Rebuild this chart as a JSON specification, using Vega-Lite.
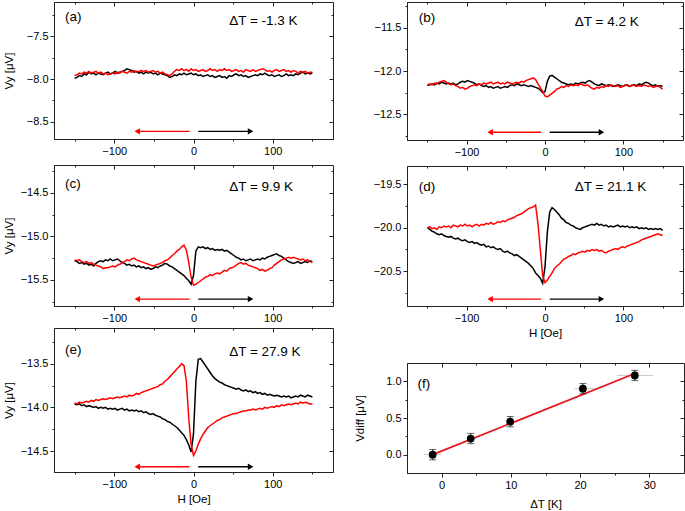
{
"$schema": "https://vega.github.io/schema/vega-lite/v6.json",
"padding": {"left": 2, "top": 1, "right": 0, "bottom": 0},
"config": {
  "font": "Liberation Sans",
  "view": {"stroke": "#222", "strokeWidth": 1},
  "axis": {"labelFont": "Liberation Sans", "labelFontSize": 11, "labelColor": "#000", "titleFont": "Liberation Sans", "titleFontSize": 11.5, "titleFontWeight": "normal", "titleColor": "#000", "domainColor": "#222", "tickColor": "#222", "grid": false, "labelPadding": 2, "tickSize": 4, "titlePadding": 4},
  "text": {"font": "Liberation Sans"}
},
"datasets": {
"a": [
{"h":-150,"k":-7.99,"r":-7.96},{"h":-147,"k":-7.98,"r":-7.95},{"h":-144,"k":-7.96,"r":-7.93},{"h":-141,"k":-7.97,"r":-7.94},{"h":-138,"k":-7.94,"r":-7.92},{"h":-135,"k":-7.95,"r":-7.93},{"h":-132,"k":-7.92,"r":-7.91},{"h":-129,"k":-7.94,"r":-7.93},{"h":-126,"k":-7.93,"r":-7.92},{"h":-123,"k":-7.95,"r":-7.91},{"h":-120,"k":-7.93,"r":-7.93},{"h":-117,"k":-7.94,"r":-7.92},{"h":-114,"k":-7.95,"r":-7.94},{"h":-111,"k":-7.93,"r":-7.93},{"h":-108,"k":-7.92,"r":-7.95},{"h":-105,"k":-7.94,"r":-7.94},{"h":-102,"k":-7.93,"r":-7.93},{"h":-99,"k":-7.91,"r":-7.94},{"h":-96,"k":-7.93,"r":-7.92},{"h":-93,"k":-7.92,"r":-7.93},{"h":-90,"k":-7.91,"r":-7.91},{"h":-87,"k":-7.90,"r":-7.92},{"h":-84,"k":-7.88,"r":-7.93},{"h":-81,"k":-7.89,"r":-7.91},{"h":-78,"k":-7.90,"r":-7.92},{"h":-75,"k":-7.92,"r":-7.90},{"h":-72,"k":-7.91,"r":-7.92},{"h":-69,"k":-7.93,"r":-7.91},{"h":-66,"k":-7.92,"r":-7.90},{"h":-63,"k":-7.94,"r":-7.91},{"h":-60,"k":-7.92,"r":-7.90},{"h":-57,"k":-7.93,"r":-7.92},{"h":-54,"k":-7.92,"r":-7.91},{"h":-51,"k":-7.94,"r":-7.90},{"h":-48,"k":-7.93,"r":-7.92},{"h":-45,"k":-7.95,"r":-7.91},{"h":-42,"k":-7.93,"r":-7.93},{"h":-39,"k":-7.94,"r":-7.92},{"h":-36,"k":-7.95,"r":-7.94},{"h":-33,"k":-7.96,"r":-7.95},{"h":-30,"k":-7.98,"r":-7.96},{"h":-27,"k":-7.97,"r":-7.94},{"h":-24,"k":-7.95,"r":-7.91},{"h":-21,"k":-7.96,"r":-7.89},{"h":-18,"k":-7.94,"r":-7.90},{"h":-15,"k":-7.95,"r":-7.88},{"h":-12,"k":-7.93,"r":-7.90},{"h":-9,"k":-7.95,"r":-7.89},{"h":-6,"k":-7.94,"r":-7.91},{"h":-3,"k":-7.93,"r":-7.88},{"h":0,"k":-7.95,"r":-7.90},{"h":3,"k":-7.94,"r":-7.89},{"h":6,"k":-7.96,"r":-7.91},{"h":9,"k":-7.95,"r":-7.90},{"h":12,"k":-7.97,"r":-7.89},{"h":15,"k":-7.96,"r":-7.91},{"h":18,"k":-7.95,"r":-7.90},{"h":21,"k":-7.97,"r":-7.88},{"h":24,"k":-7.96,"r":-7.90},{"h":27,"k":-7.98,"r":-7.89},{"h":30,"k":-7.97,"r":-7.91},{"h":33,"k":-7.96,"r":-7.89},{"h":36,"k":-7.98,"r":-7.90},{"h":39,"k":-7.97,"r":-7.88},{"h":42,"k":-7.99,"r":-7.90},{"h":45,"k":-7.96,"r":-7.89},{"h":48,"k":-7.97,"r":-7.91},{"h":51,"k":-7.95,"r":-7.90},{"h":54,"k":-7.94,"r":-7.89},{"h":57,"k":-7.96,"r":-7.91},{"h":60,"k":-7.95,"r":-7.90},{"h":63,"k":-7.97,"r":-7.92},{"h":66,"k":-7.96,"r":-7.89},{"h":69,"k":-7.98,"r":-7.90},{"h":72,"k":-7.97,"r":-7.91},{"h":75,"k":-7.96,"r":-7.89},{"h":78,"k":-7.95,"r":-7.91},{"h":81,"k":-7.96,"r":-7.90},{"h":84,"k":-7.94,"r":-7.89},{"h":87,"k":-7.95,"r":-7.88},{"h":90,"k":-7.93,"r":-7.89},{"h":93,"k":-7.95,"r":-7.91},{"h":96,"k":-7.96,"r":-7.90},{"h":99,"k":-7.95,"r":-7.92},{"h":102,"k":-7.97,"r":-7.90},{"h":105,"k":-7.96,"r":-7.89},{"h":108,"k":-7.95,"r":-7.91},{"h":111,"k":-7.97,"r":-7.90},{"h":114,"k":-7.96,"r":-7.89},{"h":117,"k":-7.94,"r":-7.91},{"h":120,"k":-7.96,"r":-7.90},{"h":123,"k":-7.95,"r":-7.92},{"h":126,"k":-7.96,"r":-7.90},{"h":129,"k":-7.94,"r":-7.91},{"h":132,"k":-7.95,"r":-7.93},{"h":135,"k":-7.93,"r":-7.91},{"h":138,"k":-7.92,"r":-7.92},{"h":141,"k":-7.94,"r":-7.91},{"h":144,"k":-7.93,"r":-7.93},{"h":147,"k":-7.94,"r":-7.92},{"h":150,"k":-7.93,"r":-7.92}
],
"b": [
{"h":-150,"k":-12.17,"r":-12.16},{"h":-147,"k":-12.16,"r":-12.15},{"h":-144,"k":-12.15,"r":-12.16},{"h":-141,"k":-12.16,"r":-12.14},{"h":-138,"k":-12.14,"r":-12.15},{"h":-135,"k":-12.15,"r":-12.13},{"h":-132,"k":-12.13,"r":-12.12},{"h":-129,"k":-12.14,"r":-12.11},{"h":-126,"k":-12.15,"r":-12.13},{"h":-123,"k":-12.14,"r":-12.15},{"h":-120,"k":-12.15,"r":-12.16},{"h":-117,"k":-12.14,"r":-12.15},{"h":-114,"k":-12.16,"r":-12.17},{"h":-111,"k":-12.15,"r":-12.18},{"h":-108,"k":-12.13,"r":-12.20},{"h":-105,"k":-12.12,"r":-12.19},{"h":-102,"k":-12.13,"r":-12.21},{"h":-99,"k":-12.11,"r":-12.20},{"h":-96,"k":-12.12,"r":-12.18},{"h":-93,"k":-12.13,"r":-12.17},{"h":-90,"k":-12.14,"r":-12.16},{"h":-87,"k":-12.16,"r":-12.17},{"h":-84,"k":-12.15,"r":-12.15},{"h":-81,"k":-12.17,"r":-12.16},{"h":-78,"k":-12.18,"r":-12.14},{"h":-75,"k":-12.17,"r":-12.15},{"h":-72,"k":-12.19,"r":-12.14},{"h":-69,"k":-12.18,"r":-12.13},{"h":-66,"k":-12.20,"r":-12.15},{"h":-63,"k":-12.19,"r":-12.14},{"h":-60,"k":-12.18,"r":-12.13},{"h":-57,"k":-12.20,"r":-12.15},{"h":-54,"k":-12.19,"r":-12.14},{"h":-51,"k":-12.18,"r":-12.15},{"h":-48,"k":-12.19,"r":-12.13},{"h":-45,"k":-12.17,"r":-12.14},{"h":-42,"k":-12.16,"r":-12.15},{"h":-39,"k":-12.17,"r":-12.14},{"h":-36,"k":-12.15,"r":-12.13},{"h":-33,"k":-12.16,"r":-12.14},{"h":-30,"k":-12.17,"r":-12.12},{"h":-27,"k":-12.16,"r":-12.13},{"h":-24,"k":-12.17,"r":-12.11},{"h":-21,"k":-12.18,"r":-12.10},{"h":-18,"k":-12.17,"r":-12.09},{"h":-15,"k":-12.18,"r":-12.08},{"h":-12,"k":-12.19,"r":-12.10},{"h":-9,"k":-12.20,"r":-12.15},{"h":-6,"k":-12.22,"r":-12.19},{"h":-3,"k":-12.25,"r":-12.24},{"h":0,"k":-12.24,"r":-12.29},{"h":3,"k":-12.12,"r":-12.30},{"h":6,"k":-12.06,"r":-12.28},{"h":9,"k":-12.05,"r":-12.26},{"h":12,"k":-12.07,"r":-12.24},{"h":15,"k":-12.09,"r":-12.21},{"h":18,"k":-12.11,"r":-12.20},{"h":21,"k":-12.13,"r":-12.18},{"h":24,"k":-12.14,"r":-12.19},{"h":27,"k":-12.15,"r":-12.17},{"h":30,"k":-12.16,"r":-12.18},{"h":33,"k":-12.15,"r":-12.16},{"h":36,"k":-12.16,"r":-12.17},{"h":39,"k":-12.14,"r":-12.16},{"h":42,"k":-12.15,"r":-12.17},{"h":45,"k":-12.14,"r":-12.15},{"h":48,"k":-12.13,"r":-12.16},{"h":51,"k":-12.14,"r":-12.17},{"h":54,"k":-12.12,"r":-12.16},{"h":57,"k":-12.11,"r":-12.18},{"h":60,"k":-12.13,"r":-12.20},{"h":63,"k":-12.15,"r":-12.21},{"h":66,"k":-12.16,"r":-12.19},{"h":69,"k":-12.17,"r":-12.20},{"h":72,"k":-12.15,"r":-12.18},{"h":75,"k":-12.16,"r":-12.19},{"h":78,"k":-12.17,"r":-12.17},{"h":81,"k":-12.16,"r":-12.18},{"h":84,"k":-12.17,"r":-12.16},{"h":87,"k":-12.18,"r":-12.17},{"h":90,"k":-12.17,"r":-12.18},{"h":93,"k":-12.16,"r":-12.17},{"h":96,"k":-12.17,"r":-12.19},{"h":99,"k":-12.18,"r":-12.18},{"h":102,"k":-12.17,"r":-12.16},{"h":105,"k":-12.16,"r":-12.17},{"h":108,"k":-12.18,"r":-12.18},{"h":111,"k":-12.17,"r":-12.16},{"h":114,"k":-12.16,"r":-12.17},{"h":117,"k":-12.17,"r":-12.18},{"h":120,"k":-12.15,"r":-12.17},{"h":123,"k":-12.16,"r":-12.18},{"h":126,"k":-12.14,"r":-12.16},{"h":129,"k":-12.13,"r":-12.17},{"h":132,"k":-12.14,"r":-12.18},{"h":135,"k":-12.16,"r":-12.17},{"h":138,"k":-12.17,"r":-12.19},{"h":141,"k":-12.16,"r":-12.18},{"h":144,"k":-12.18,"r":-12.17},{"h":147,"k":-12.17,"r":-12.19},{"h":150,"k":-12.18,"r":-12.21}
],
"c": [
{"h":-150,"k":-15.28,"r":-15.27},{"h":-147,"k":-15.29,"r":-15.28},{"h":-144,"k":-15.31,"r":-15.27},{"h":-141,"k":-15.30,"r":-15.29},{"h":-138,"k":-15.32,"r":-15.30},{"h":-135,"k":-15.31,"r":-15.29},{"h":-132,"k":-15.33,"r":-15.31},{"h":-129,"k":-15.32,"r":-15.30},{"h":-126,"k":-15.34,"r":-15.32},{"h":-123,"k":-15.31,"r":-15.33},{"h":-120,"k":-15.29,"r":-15.34},{"h":-117,"k":-15.28,"r":-15.35},{"h":-114,"k":-15.29,"r":-15.37},{"h":-111,"k":-15.27,"r":-15.36},{"h":-108,"k":-15.28,"r":-15.36},{"h":-105,"k":-15.26,"r":-15.35},{"h":-102,"k":-15.28,"r":-15.34},{"h":-99,"k":-15.27,"r":-15.35},{"h":-96,"k":-15.26,"r":-15.33},{"h":-93,"k":-15.28,"r":-15.32},{"h":-90,"k":-15.30,"r":-15.30},{"h":-87,"k":-15.31,"r":-15.29},{"h":-84,"k":-15.33,"r":-15.27},{"h":-81,"k":-15.32,"r":-15.28},{"h":-78,"k":-15.34,"r":-15.26},{"h":-75,"k":-15.33,"r":-15.25},{"h":-72,"k":-15.35,"r":-15.27},{"h":-69,"k":-15.34,"r":-15.28},{"h":-66,"k":-15.36,"r":-15.29},{"h":-63,"k":-15.35,"r":-15.30},{"h":-60,"k":-15.37,"r":-15.31},{"h":-57,"k":-15.36,"r":-15.32},{"h":-54,"k":-15.38,"r":-15.33},{"h":-51,"k":-15.37,"r":-15.34},{"h":-48,"k":-15.35,"r":-15.33},{"h":-45,"k":-15.36,"r":-15.32},{"h":-42,"k":-15.34,"r":-15.31},{"h":-39,"k":-15.33,"r":-15.30},{"h":-36,"k":-15.31,"r":-15.28},{"h":-33,"k":-15.32,"r":-15.27},{"h":-30,"k":-15.34,"r":-15.25},{"h":-27,"k":-15.35,"r":-15.22},{"h":-24,"k":-15.37,"r":-15.20},{"h":-21,"k":-15.39,"r":-15.17},{"h":-18,"k":-15.41,"r":-15.15},{"h":-15,"k":-15.43,"r":-15.12},{"h":-12,"k":-15.45,"r":-15.10},{"h":-9,"k":-15.48,"r":-15.16},{"h":-6,"k":-15.51,"r":-15.30},{"h":-3,"k":-15.55,"r":-15.47},{"h":0,"k":-15.45,"r":-15.56},{"h":3,"k":-15.17,"r":-15.55},{"h":6,"k":-15.12,"r":-15.53},{"h":9,"k":-15.13,"r":-15.51},{"h":12,"k":-15.12,"r":-15.49},{"h":15,"k":-15.14,"r":-15.47},{"h":18,"k":-15.13,"r":-15.46},{"h":21,"k":-15.15,"r":-15.44},{"h":24,"k":-15.14,"r":-15.45},{"h":27,"k":-15.16,"r":-15.43},{"h":30,"k":-15.15,"r":-15.42},{"h":33,"k":-15.16,"r":-15.43},{"h":36,"k":-15.15,"r":-15.41},{"h":39,"k":-15.17,"r":-15.39},{"h":42,"k":-15.16,"r":-15.40},{"h":45,"k":-15.18,"r":-15.37},{"h":48,"k":-15.20,"r":-15.36},{"h":51,"k":-15.22,"r":-15.35},{"h":54,"k":-15.24,"r":-15.33},{"h":57,"k":-15.25,"r":-15.31},{"h":60,"k":-15.27,"r":-15.30},{"h":63,"k":-15.26,"r":-15.32},{"h":66,"k":-15.28,"r":-15.31},{"h":69,"k":-15.27,"r":-15.33},{"h":72,"k":-15.26,"r":-15.34},{"h":75,"k":-15.28,"r":-15.35},{"h":78,"k":-15.27,"r":-15.36},{"h":81,"k":-15.26,"r":-15.37},{"h":84,"k":-15.27,"r":-15.39},{"h":87,"k":-15.25,"r":-15.38},{"h":90,"k":-15.26,"r":-15.40},{"h":93,"k":-15.24,"r":-15.39},{"h":96,"k":-15.23,"r":-15.37},{"h":99,"k":-15.22,"r":-15.36},{"h":102,"k":-15.21,"r":-15.33},{"h":105,"k":-15.20,"r":-15.31},{"h":108,"k":-15.22,"r":-15.29},{"h":111,"k":-15.23,"r":-15.27},{"h":114,"k":-15.25,"r":-15.26},{"h":117,"k":-15.27,"r":-15.25},{"h":120,"k":-15.29,"r":-15.24},{"h":123,"k":-15.30,"r":-15.25},{"h":126,"k":-15.31,"r":-15.24},{"h":129,"k":-15.30,"r":-15.25},{"h":132,"k":-15.29,"r":-15.26},{"h":135,"k":-15.31,"r":-15.27},{"h":138,"k":-15.30,"r":-15.26},{"h":141,"k":-15.29,"r":-15.28},{"h":144,"k":-15.30,"r":-15.27},{"h":147,"k":-15.28,"r":-15.29},{"h":150,"k":-15.29,"r":-15.30}
],
"d": [
{"h":-150,"k":-20.00,"r":-20.00},{"h":-147,"k":-20.02,"r":-19.99},{"h":-144,"k":-20.04,"r":-20.01},{"h":-141,"k":-20.05,"r":-20.00},{"h":-138,"k":-20.07,"r":-20.02},{"h":-135,"k":-20.08,"r":-19.99},{"h":-132,"k":-20.07,"r":-20.00},{"h":-129,"k":-20.09,"r":-19.98},{"h":-126,"k":-20.10,"r":-19.99},{"h":-123,"k":-20.11,"r":-19.98},{"h":-120,"k":-20.10,"r":-20.00},{"h":-117,"k":-20.12,"r":-19.97},{"h":-114,"k":-20.13,"r":-19.98},{"h":-111,"k":-20.12,"r":-19.99},{"h":-108,"k":-20.14,"r":-19.97},{"h":-105,"k":-20.15,"r":-19.98},{"h":-102,"k":-20.14,"r":-19.96},{"h":-99,"k":-20.16,"r":-19.98},{"h":-96,"k":-20.17,"r":-19.97},{"h":-93,"k":-20.16,"r":-19.99},{"h":-90,"k":-20.18,"r":-19.97},{"h":-87,"k":-20.17,"r":-19.96},{"h":-84,"k":-20.19,"r":-19.98},{"h":-81,"k":-20.20,"r":-19.96},{"h":-78,"k":-20.19,"r":-19.97},{"h":-75,"k":-20.22,"r":-19.95},{"h":-72,"k":-20.21,"r":-19.96},{"h":-69,"k":-20.23,"r":-19.94},{"h":-66,"k":-20.22,"r":-19.96},{"h":-63,"k":-20.24,"r":-19.95},{"h":-60,"k":-20.25,"r":-19.93},{"h":-57,"k":-20.24,"r":-19.94},{"h":-54,"k":-20.27,"r":-19.92},{"h":-51,"k":-20.28,"r":-19.93},{"h":-48,"k":-20.27,"r":-19.91},{"h":-45,"k":-20.29,"r":-19.90},{"h":-42,"k":-20.30,"r":-19.89},{"h":-39,"k":-20.32,"r":-19.88},{"h":-36,"k":-20.31,"r":-19.86},{"h":-33,"k":-20.33,"r":-19.85},{"h":-30,"k":-20.35,"r":-19.84},{"h":-27,"k":-20.37,"r":-19.82},{"h":-24,"k":-20.39,"r":-19.80},{"h":-21,"k":-20.41,"r":-19.78},{"h":-18,"k":-20.44,"r":-19.77},{"h":-15,"k":-20.47,"r":-19.76},{"h":-12,"k":-20.52,"r":-19.74},{"h":-9,"k":-20.55,"r":-19.95},{"h":-6,"k":-20.58,"r":-20.25},{"h":-3,"k":-20.64,"r":-20.55},{"h":0,"k":-20.45,"r":-20.63},{"h":3,"k":-20.05,"r":-20.60},{"h":6,"k":-19.82,"r":-20.56},{"h":9,"k":-19.77,"r":-20.52},{"h":12,"k":-19.79,"r":-20.47},{"h":15,"k":-19.82,"r":-20.44},{"h":18,"k":-19.85,"r":-20.42},{"h":21,"k":-19.89,"r":-20.39},{"h":24,"k":-19.91,"r":-20.36},{"h":27,"k":-19.94,"r":-20.35},{"h":30,"k":-19.95,"r":-20.33},{"h":33,"k":-19.97,"r":-20.32},{"h":36,"k":-19.98,"r":-20.30},{"h":39,"k":-20.00,"r":-20.31},{"h":42,"k":-20.01,"r":-20.29},{"h":45,"k":-20.02,"r":-20.28},{"h":48,"k":-20.00,"r":-20.27},{"h":51,"k":-19.99,"r":-20.28},{"h":54,"k":-19.98,"r":-20.26},{"h":57,"k":-19.97,"r":-20.27},{"h":60,"k":-19.96,"r":-20.25},{"h":63,"k":-19.97,"r":-20.26},{"h":66,"k":-19.95,"r":-20.25},{"h":69,"k":-19.97,"r":-20.27},{"h":72,"k":-19.96,"r":-20.26},{"h":75,"k":-19.98,"r":-20.28},{"h":78,"k":-19.97,"r":-20.29},{"h":81,"k":-19.99,"r":-20.27},{"h":84,"k":-19.98,"r":-20.26},{"h":87,"k":-19.99,"r":-20.25},{"h":90,"k":-19.98,"r":-20.24},{"h":93,"k":-19.97,"r":-20.25},{"h":96,"k":-19.99,"r":-20.23},{"h":99,"k":-19.98,"r":-20.22},{"h":102,"k":-19.99,"r":-20.23},{"h":105,"k":-19.98,"r":-20.21},{"h":108,"k":-20.00,"r":-20.20},{"h":111,"k":-19.99,"r":-20.19},{"h":114,"k":-20.00,"r":-20.18},{"h":117,"k":-19.99,"r":-20.17},{"h":120,"k":-20.01,"r":-20.16},{"h":123,"k":-20.00,"r":-20.14},{"h":126,"k":-20.01,"r":-20.13},{"h":129,"k":-20.00,"r":-20.12},{"h":132,"k":-20.02,"r":-20.11},{"h":135,"k":-20.01,"r":-20.10},{"h":138,"k":-20.02,"r":-20.09},{"h":141,"k":-20.01,"r":-20.08},{"h":144,"k":-20.02,"r":-20.07},{"h":147,"k":-20.01,"r":-20.08},{"h":150,"k":-20.03,"r":-20.09}
],
"e": [
{"h":-150,"k":-13.96,"r":-13.95},{"h":-147,"k":-13.97,"r":-13.96},{"h":-144,"k":-13.96,"r":-13.94},{"h":-141,"k":-13.98,"r":-13.95},{"h":-138,"k":-13.97,"r":-13.94},{"h":-135,"k":-13.99,"r":-13.93},{"h":-132,"k":-13.98,"r":-13.94},{"h":-129,"k":-13.99,"r":-13.92},{"h":-126,"k":-14.00,"r":-13.93},{"h":-123,"k":-13.99,"r":-13.91},{"h":-120,"k":-14.01,"r":-13.92},{"h":-117,"k":-14.00,"r":-13.91},{"h":-114,"k":-14.01,"r":-13.90},{"h":-111,"k":-14.00,"r":-13.91},{"h":-108,"k":-14.02,"r":-13.90},{"h":-105,"k":-14.01,"r":-13.89},{"h":-102,"k":-14.02,"r":-13.90},{"h":-99,"k":-14.01,"r":-13.89},{"h":-96,"k":-14.03,"r":-13.88},{"h":-93,"k":-14.02,"r":-13.89},{"h":-90,"k":-14.01,"r":-13.88},{"h":-87,"k":-14.03,"r":-13.87},{"h":-84,"k":-14.02,"r":-13.88},{"h":-81,"k":-14.04,"r":-13.86},{"h":-78,"k":-14.03,"r":-13.87},{"h":-75,"k":-14.04,"r":-13.86},{"h":-72,"k":-14.03,"r":-13.84},{"h":-69,"k":-14.05,"r":-13.85},{"h":-66,"k":-14.04,"r":-13.83},{"h":-63,"k":-14.06,"r":-13.82},{"h":-60,"k":-14.05,"r":-13.81},{"h":-57,"k":-14.07,"r":-13.80},{"h":-54,"k":-14.08,"r":-13.79},{"h":-51,"k":-14.07,"r":-13.78},{"h":-48,"k":-14.09,"r":-13.77},{"h":-45,"k":-14.10,"r":-13.76},{"h":-42,"k":-14.11,"r":-13.74},{"h":-39,"k":-14.13,"r":-13.73},{"h":-36,"k":-14.14,"r":-13.70},{"h":-33,"k":-14.16,"r":-13.68},{"h":-30,"k":-14.17,"r":-13.65},{"h":-27,"k":-14.19,"r":-13.62},{"h":-24,"k":-14.21,"r":-13.59},{"h":-21,"k":-14.23,"r":-13.56},{"h":-18,"k":-14.26,"r":-13.53},{"h":-15,"k":-14.29,"r":-13.50},{"h":-12,"k":-14.32,"r":-13.52},{"h":-9,"k":-14.37,"r":-13.70},{"h":-6,"k":-14.43,"r":-14.12},{"h":-3,"k":-14.51,"r":-14.43},{"h":0,"k":-14.30,"r":-14.55},{"h":3,"k":-13.70,"r":-14.50},{"h":6,"k":-13.45,"r":-14.42},{"h":9,"k":-13.44,"r":-14.36},{"h":12,"k":-13.48,"r":-14.31},{"h":15,"k":-13.52,"r":-14.27},{"h":18,"k":-13.56,"r":-14.23},{"h":21,"k":-13.60,"r":-14.21},{"h":24,"k":-13.64,"r":-14.19},{"h":27,"k":-13.67,"r":-14.17},{"h":30,"k":-13.69,"r":-14.15},{"h":33,"k":-13.71,"r":-14.14},{"h":36,"k":-13.72,"r":-14.12},{"h":39,"k":-13.74,"r":-14.11},{"h":42,"k":-13.75,"r":-14.10},{"h":45,"k":-13.76,"r":-14.09},{"h":48,"k":-13.77,"r":-14.08},{"h":51,"k":-13.78,"r":-14.07},{"h":54,"k":-13.79,"r":-14.07},{"h":57,"k":-13.78,"r":-14.06},{"h":60,"k":-13.80,"r":-14.05},{"h":63,"k":-13.81,"r":-14.04},{"h":66,"k":-13.80,"r":-14.04},{"h":69,"k":-13.82,"r":-14.03},{"h":72,"k":-13.81,"r":-14.03},{"h":75,"k":-13.83,"r":-14.02},{"h":78,"k":-13.82,"r":-14.03},{"h":81,"k":-13.84,"r":-14.02},{"h":84,"k":-13.83,"r":-14.01},{"h":87,"k":-13.85,"r":-14.02},{"h":90,"k":-13.84,"r":-14.00},{"h":93,"k":-13.86,"r":-14.01},{"h":96,"k":-13.85,"r":-14.00},{"h":99,"k":-13.86,"r":-13.99},{"h":102,"k":-13.87,"r":-14.00},{"h":105,"k":-13.86,"r":-13.98},{"h":108,"k":-13.87,"r":-13.99},{"h":111,"k":-13.88,"r":-13.97},{"h":114,"k":-13.87,"r":-13.98},{"h":117,"k":-13.88,"r":-13.97},{"h":120,"k":-13.87,"r":-13.96},{"h":123,"k":-13.89,"r":-13.97},{"h":126,"k":-13.88,"r":-13.96},{"h":129,"k":-13.87,"r":-13.95},{"h":132,"k":-13.88,"r":-13.96},{"h":135,"k":-13.86,"r":-13.94},{"h":138,"k":-13.87,"r":-13.95},{"h":141,"k":-13.88,"r":-13.94},{"h":144,"k":-13.86,"r":-13.95},{"h":147,"k":-13.87,"r":-13.96},{"h":150,"k":-13.88,"r":-13.96}
],
"f": [
{"dt":-1.3,"v":0.0,"ylo":-0.07,"yhi":0.07,"xlo":-2.6,"xhi":0.0},
{"dt":4.2,"v":0.22,"ylo":0.15,"yhi":0.29,"xlo":3.7,"xhi":4.7},
{"dt":9.9,"v":0.45,"ylo":0.38,"yhi":0.52,"xlo":9.3,"xhi":10.5},
{"dt":20.4,"v":0.9,"ylo":0.83,"yhi":0.97,"xlo":19.2,"xhi":22.0},
{"dt":27.9,"v":1.08,"ylo":1.01,"yhi":1.15,"xlo":25.3,"xhi":30.5}
],
"fit": [{"dt":-1.3,"v":0.0},{"dt":28.0,"v":1.11}]
},
"spacing": 19,
"hconcat": [
{"spacing": 3, "vconcat": [
 {"spacing": 7, "vconcat": [
  {"width": 279, "height": 137, "resolve": {"axis": {"x": "independent", "y": "independent"}},
   "layer": [
    {"data": {"name": "a"}, "transform": [{"fold": ["k", "r"], "as": ["c", "v"]}], "mark": {"type": "line", "strokeWidth": 1.5},
     "encoding": {"x": {"field": "h", "type": "quantitative", "scale": {"domain": [-176, 176]}, "axis": {"values": [-100, 0, 100], "title": null}},
                  "y": {"field": "v", "type": "quantitative", "scale": {"domain": [-8.7, -7.1]}, "axis": {"values": [-7.5, -8, -8.5], "format": ".1f", "title": "Vy [μV]", "titleX": -40}},
                  "color": {"field": "c", "type": "nominal", "scale": {"domain": ["k", "r"], "range": ["#000000", "#ff0000"]}, "legend": null}}},
    {"data": {"values": [{"h": -5, "h2": -70, "v": -8.61, "c": "r"}, {"h": 6, "h2": 71, "v": -8.61, "c": "k"}]}, "mark": {"type": "rule", "strokeWidth": 1.3},
     "encoding": {"x": {"field": "h", "type": "quantitative", "scale": {"domain": [-176, 176]}, "axis": {"orient": "top", "values": [-100, 0, 100], "labels": false, "domain": false, "title": null, "tickSize": -4}},
                  "y": {"field": "v", "type": "quantitative", "scale": {"domain": [-8.7, -7.1]}, "axis": {"orient": "right", "values": [-7.5, -8, -8.5], "labels": false, "domain": false, "title": null, "tickSize": -4}},
                  "x2": {"field": "h2"}, "color": {"field": "c", "type": "nominal", "legend": null}}},
    {"data": {"values": [{"h": -71, "v": -8.61, "c": "r"}, {"h": 72, "v": -8.61, "c": "k"}]}, "mark": {"type": "point", "filled": true, "opacity": 1, "size": 40},
     "encoding": {"x": {"field": "h", "type": "quantitative", "scale": {"domain": [-176, 176]}, "axis": {"orient": "bottom", "values": [-150, -50, 50, 150], "labels": false, "domain": false, "title": null, "tickSize": 2}},
                  "y": {"field": "v", "type": "quantitative", "scale": {"domain": [-8.7, -7.1]}, "axis": {"orient": "left", "values": [-7.25, -7.75, -8.25], "labels": false, "domain": false, "title": null, "tickSize": 2}},
                  "color": {"field": "c", "type": "nominal", "legend": null}, "shape": {"field": "c", "type": "nominal", "scale": {"domain": ["k", "r"], "range": ["triangle-right", "triangle-left"]}, "legend": null}}},
    {"data": {"values": [{"h": -162, "v": -7.27, "t": "(a)"}, {"h": 45, "v": -7.32, "t": "ΔT = -1.3 K"}]}, "mark": {"type": "text", "align": "left", "baseline": "middle", "fontSize": 13.5, "color": "#000"},
     "encoding": {"x": {"field": "h", "type": "quantitative", "scale": {"domain": [-176, 176]}, "axis": {"orient": "top", "values": [-150, -50, 50, 150], "labels": false, "domain": false, "title": null, "tickSize": -2}},
                  "y": {"field": "v", "type": "quantitative", "scale": {"domain": [-8.7, -7.1]}, "axis": {"orient": "right", "values": [-7.25, -7.75, -8.25], "labels": false, "domain": false, "title": null, "tickSize": -2}},
                  "text": {"field": "t"}}}
   ]},
  {"width": 279, "height": 141, "resolve": {"axis": {"x": "independent", "y": "independent"}},
   "layer": [
    {"data": {"name": "c"}, "transform": [{"fold": ["k", "r"], "as": ["c", "v"]}], "mark": {"type": "line", "strokeWidth": 1.5},
     "encoding": {"x": {"field": "h", "type": "quantitative", "scale": {"domain": [-176, 176]}, "axis": {"values": [-100, 0, 100], "title": null}},
                  "y": {"field": "v", "type": "quantitative", "scale": {"domain": [-15.8, -14.18]}, "axis": {"values": [-14.5, -15, -15.5], "format": ".1f", "title": "Vy [μV]", "titleX": -40}},
                  "color": {"field": "c", "type": "nominal", "scale": {"domain": ["k", "r"], "range": ["#000000", "#ff0000"]}, "legend": null}}},
    {"data": {"values": [{"h": -5, "h2": -70, "v": -15.72, "c": "r"}, {"h": 6, "h2": 71, "v": -15.72, "c": "k"}]}, "mark": {"type": "rule", "strokeWidth": 1.3},
     "encoding": {"x": {"field": "h", "type": "quantitative", "scale": {"domain": [-176, 176]}, "axis": {"orient": "top", "values": [-100, 0, 100], "labels": false, "domain": false, "title": null, "tickSize": -4}},
                  "y": {"field": "v", "type": "quantitative", "scale": {"domain": [-15.8, -14.18]}, "axis": {"orient": "right", "values": [-14.5, -15, -15.5], "labels": false, "domain": false, "title": null, "tickSize": -4}},
                  "x2": {"field": "h2"}, "color": {"field": "c", "type": "nominal", "legend": null}}},
    {"data": {"values": [{"h": -71, "v": -15.72, "c": "r"}, {"h": 72, "v": -15.72, "c": "k"}]}, "mark": {"type": "point", "filled": true, "opacity": 1, "size": 40},
     "encoding": {"x": {"field": "h", "type": "quantitative", "scale": {"domain": [-176, 176]}, "axis": {"orient": "bottom", "values": [-150, -50, 50, 150], "labels": false, "domain": false, "title": null, "tickSize": 2}},
                  "y": {"field": "v", "type": "quantitative", "scale": {"domain": [-15.8, -14.18]}, "axis": {"orient": "left", "values": [-14.25, -14.75, -15.25, -15.75], "labels": false, "domain": false, "title": null, "tickSize": 2}},
                  "color": {"field": "c", "type": "nominal", "legend": null}, "shape": {"field": "c", "type": "nominal", "scale": {"domain": ["k", "r"], "range": ["triangle-right", "triangle-left"]}, "legend": null}}},
    {"data": {"values": [{"h": -162, "v": -14.40, "t": "(c)"}, {"h": 45, "v": -14.43, "t": "ΔT = 9.9 K"}]}, "mark": {"type": "text", "align": "left", "baseline": "middle", "fontSize": 13.5, "color": "#000"},
     "encoding": {"x": {"field": "h", "type": "quantitative", "scale": {"domain": [-176, 176]}, "axis": {"orient": "top", "values": [-150, -50, 50, 150], "labels": false, "domain": false, "title": null, "tickSize": -2}},
                  "y": {"field": "v", "type": "quantitative", "scale": {"domain": [-15.8, -14.18]}, "axis": {"orient": "right", "values": [-14.25, -14.75, -15.25, -15.75], "labels": false, "domain": false, "title": null, "tickSize": -2}},
                  "text": {"field": "t"}}}
   ]}
 ]},
 {"width": 279, "height": 144, "resolve": {"axis": {"x": "independent", "y": "independent"}},
  "layer": [
   {"data": {"name": "e"}, "transform": [{"fold": ["k", "r"], "as": ["c", "v"]}], "mark": {"type": "line", "strokeWidth": 1.5},
    "encoding": {"x": {"field": "h", "type": "quantitative", "scale": {"domain": [-176, 176]}, "axis": {"values": [-100, 0, 100], "title": "H [Oe]"}},
                 "y": {"field": "v", "type": "quantitative", "scale": {"domain": [-14.74, -13.09]}, "axis": {"values": [-13.5, -14, -14.5], "format": ".1f", "title": "Vy [μV]", "titleX": -40}},
                 "color": {"field": "c", "type": "nominal", "scale": {"domain": ["k", "r"], "range": ["#000000", "#ff0000"]}, "legend": null}}},
   {"data": {"values": [{"h": -5, "h2": -70, "v": -14.68, "c": "r"}, {"h": 6, "h2": 71, "v": -14.68, "c": "k"}]}, "mark": {"type": "rule", "strokeWidth": 1.3},
    "encoding": {"x": {"field": "h", "type": "quantitative", "scale": {"domain": [-176, 176]}, "axis": {"orient": "top", "values": [-100, 0, 100], "labels": false, "domain": false, "title": null, "tickSize": -4}},
                 "y": {"field": "v", "type": "quantitative", "scale": {"domain": [-14.74, -13.09]}, "axis": {"orient": "right", "values": [-13.5, -14, -14.5], "labels": false, "domain": false, "title": null, "tickSize": -4}},
                 "x2": {"field": "h2"}, "color": {"field": "c", "type": "nominal", "legend": null}}},
   {"data": {"values": [{"h": -71, "v": -14.68, "c": "r"}, {"h": 72, "v": -14.68, "c": "k"}]}, "mark": {"type": "point", "filled": true, "opacity": 1, "size": 40},
    "encoding": {"x": {"field": "h", "type": "quantitative", "scale": {"domain": [-176, 176]}, "axis": {"orient": "bottom", "values": [-150, -50, 50, 150], "labels": false, "domain": false, "title": null, "tickSize": 2}},
                 "y": {"field": "v", "type": "quantitative", "scale": {"domain": [-14.74, -13.09]}, "axis": {"orient": "left", "values": [-13.25, -13.75, -14.25], "labels": false, "domain": false, "title": null, "tickSize": 2}},
                 "color": {"field": "c", "type": "nominal", "legend": null}, "shape": {"field": "c", "type": "nominal", "scale": {"domain": ["k", "r"], "range": ["triangle-right", "triangle-left"]}, "legend": null}}},
   {"data": {"values": [{"h": -162, "v": -13.34, "t": "(e)"}, {"h": 45, "v": -13.37, "t": "ΔT = 27.9 K"}]}, "mark": {"type": "text", "align": "left", "baseline": "middle", "fontSize": 13.5, "color": "#000"},
    "encoding": {"x": {"field": "h", "type": "quantitative", "scale": {"domain": [-176, 176]}, "axis": {"orient": "top", "values": [-150, -50, 50, 150], "labels": false, "domain": false, "title": null, "tickSize": -2}},
                 "y": {"field": "v", "type": "quantitative", "scale": {"domain": [-14.74, -13.09]}, "axis": {"orient": "right", "values": [-13.25, -13.75, -14.25], "labels": false, "domain": false, "title": null, "tickSize": -2}},
                 "text": {"field": "t"}}}
  ]}
]},
{"spacing": 23, "vconcat": [
 {"spacing": 7, "vconcat": [
  {"width": 276, "height": 138, "resolve": {"axis": {"x": "independent", "y": "independent"}},
   "layer": [
    {"data": {"name": "b"}, "transform": [{"fold": ["k", "r"], "as": ["c", "v"]}], "mark": {"type": "line", "strokeWidth": 1.5},
     "encoding": {"x": {"field": "h", "type": "quantitative", "scale": {"domain": [-176, 176]}, "axis": {"values": [-100, 0, 100], "title": null}},
                  "y": {"field": "v", "type": "quantitative", "scale": {"domain": [-12.8, -11.2]}, "axis": {"values": [-11.5, -12, -12.5], "format": ".1f", "title": null}},
                  "color": {"field": "c", "type": "nominal", "scale": {"domain": ["k", "r"], "range": ["#000000", "#ff0000"]}, "legend": null}}},
    {"data": {"values": [{"h": -5, "h2": -69, "v": -12.71, "c": "r"}, {"h": 6, "h2": 71, "v": -12.71, "c": "k"}]}, "mark": {"type": "rule", "strokeWidth": 1.3},
     "encoding": {"x": {"field": "h", "type": "quantitative", "scale": {"domain": [-176, 176]}, "axis": {"orient": "top", "values": [-100, 0, 100], "labels": false, "domain": false, "title": null, "tickSize": -4}},
                  "y": {"field": "v", "type": "quantitative", "scale": {"domain": [-12.8, -11.2]}, "axis": {"orient": "right", "values": [-11.5, -12, -12.5], "labels": false, "domain": false, "title": null, "tickSize": -4}},
                  "x2": {"field": "h2"}, "color": {"field": "c", "type": "nominal", "legend": null}}},
    {"data": {"values": [{"h": -70, "v": -12.71, "c": "r"}, {"h": 72, "v": -12.71, "c": "k"}]}, "mark": {"type": "point", "filled": true, "opacity": 1, "size": 40},
     "encoding": {"x": {"field": "h", "type": "quantitative", "scale": {"domain": [-176, 176]}, "axis": {"orient": "bottom", "values": [-150, -50, 50, 150], "labels": false, "domain": false, "title": null, "tickSize": 2}},
                  "y": {"field": "v", "type": "quantitative", "scale": {"domain": [-12.8, -11.2]}, "axis": {"orient": "left", "values": [-11.25, -11.75, -12.25, -12.75], "labels": false, "domain": false, "title": null, "tickSize": 2}},
                  "color": {"field": "c", "type": "nominal", "legend": null}, "shape": {"field": "c", "type": "nominal", "scale": {"domain": ["k", "r"], "range": ["triangle-right", "triangle-left"]}, "legend": null}}},
    {"data": {"values": [{"h": -161, "v": -11.38, "t": "(b)"}, {"h": 38, "v": -11.43, "t": "ΔT = 4.2 K"}]}, "mark": {"type": "text", "align": "left", "baseline": "middle", "fontSize": 13.5, "color": "#000"},
     "encoding": {"x": {"field": "h", "type": "quantitative", "scale": {"domain": [-176, 176]}, "axis": {"orient": "top", "values": [-150, -50, 50, 150], "labels": false, "domain": false, "title": null, "tickSize": -2}},
                  "y": {"field": "v", "type": "quantitative", "scale": {"domain": [-12.8, -11.2]}, "axis": {"orient": "right", "values": [-11.25, -11.75, -12.25, -12.75], "labels": false, "domain": false, "title": null, "tickSize": -2}},
                  "text": {"field": "t"}}}
   ]},
  {"width": 276, "height": 140, "resolve": {"axis": {"x": "independent", "y": "independent"}},
   "layer": [
    {"data": {"name": "d"}, "transform": [{"fold": ["k", "r"], "as": ["c", "v"]}], "mark": {"type": "line", "strokeWidth": 1.5},
     "encoding": {"x": {"field": "h", "type": "quantitative", "scale": {"domain": [-176, 176]}, "axis": {"values": [-100, 0, 100], "title": "H [Oe]"}},
                  "y": {"field": "v", "type": "quantitative", "scale": {"domain": [-20.9, -19.29]}, "axis": {"values": [-19.5, -20, -20.5], "format": ".1f", "title": null}},
                  "color": {"field": "c", "type": "nominal", "scale": {"domain": ["k", "r"], "range": ["#000000", "#ff0000"]}, "legend": null}}},
    {"data": {"values": [{"h": -5, "h2": -69, "v": -20.82, "c": "r"}, {"h": 6, "h2": 71, "v": -20.82, "c": "k"}]}, "mark": {"type": "rule", "strokeWidth": 1.3},
     "encoding": {"x": {"field": "h", "type": "quantitative", "scale": {"domain": [-176, 176]}, "axis": {"orient": "top", "values": [-100, 0, 100], "labels": false, "domain": false, "title": null, "tickSize": -4}},
                  "y": {"field": "v", "type": "quantitative", "scale": {"domain": [-20.9, -19.29]}, "axis": {"orient": "right", "values": [-19.5, -20, -20.5], "labels": false, "domain": false, "title": null, "tickSize": -4}},
                  "x2": {"field": "h2"}, "color": {"field": "c", "type": "nominal", "legend": null}}},
    {"data": {"values": [{"h": -70, "v": -20.82, "c": "r"}, {"h": 72, "v": -20.82, "c": "k"}]}, "mark": {"type": "point", "filled": true, "opacity": 1, "size": 40},
     "encoding": {"x": {"field": "h", "type": "quantitative", "scale": {"domain": [-176, 176]}, "axis": {"orient": "bottom", "values": [-150, -50, 50, 150], "labels": false, "domain": false, "title": null, "tickSize": 2}},
                  "y": {"field": "v", "type": "quantitative", "scale": {"domain": [-20.9, -19.29]}, "axis": {"orient": "left", "values": [-19.75, -20.25, -20.75], "labels": false, "domain": false, "title": null, "tickSize": 2}},
                  "color": {"field": "c", "type": "nominal", "legend": null}, "shape": {"field": "c", "type": "nominal", "scale": {"domain": ["k", "r"], "range": ["triangle-right", "triangle-left"]}, "legend": null}}},
    {"data": {"values": [{"h": -161, "v": -19.53, "t": "(d)"}, {"h": 38, "v": -19.53, "t": "ΔT = 21.1 K"}]}, "mark": {"type": "text", "align": "left", "baseline": "middle", "fontSize": 13.5, "color": "#000"},
     "encoding": {"x": {"field": "h", "type": "quantitative", "scale": {"domain": [-176, 176]}, "axis": {"orient": "top", "values": [-150, -50, 50, 150], "labels": false, "domain": false, "title": null, "tickSize": -2}},
                  "y": {"field": "v", "type": "quantitative", "scale": {"domain": [-20.9, -19.29]}, "axis": {"orient": "right", "values": [-19.75, -20.25, -20.75], "labels": false, "domain": false, "title": null, "tickSize": -2}},
                  "text": {"field": "t"}}}
   ]}
 ]},
 {"width": 277, "height": 110, "resolve": {"axis": {"x": "independent", "y": "independent"}},
  "layer": [
   {"data": {"name": "f"}, "mark": {"type": "rule", "color": "#c8c8c8", "strokeWidth": 1},
    "encoding": {"x": {"field": "xlo", "type": "quantitative", "scale": {"domain": [-5, 35]}, "axis": {"values": [0, 10, 20, 30], "title": "ΔT [K]", "titlePadding": 8}},
                 "y": {"field": "v", "type": "quantitative", "scale": {"domain": [-0.25, 1.25]}, "axis": {"values": [0, 0.5, 1], "format": ".1f", "title": "Vdiff [μV]", "titleX": -42}},
                 "x2": {"field": "xhi"}}},
   {"data": {"name": "fit"}, "mark": {"type": "line", "color": "#e8141c", "strokeWidth": 1.8},
    "encoding": {"x": {"field": "dt", "type": "quantitative", "scale": {"domain": [-5, 35]}, "axis": {"orient": "top", "values": [0, 10, 20, 30], "labels": false, "domain": false, "title": null, "tickSize": -4}},
                 "y": {"field": "v", "type": "quantitative", "scale": {"domain": [-0.25, 1.25]}, "axis": {"orient": "right", "values": [0, 0.5, 1], "labels": false, "domain": false, "title": null, "tickSize": -4}}}},
   {"data": {"name": "f"}, "mark": {"type": "rule", "color": "#222", "strokeWidth": 1},
    "encoding": {"x": {"field": "dt", "type": "quantitative", "scale": {"domain": [-5, 35]}, "axis": {"orient": "bottom", "values": [5, 15, 25], "labels": false, "domain": false, "title": null, "tickSize": 2}},
                 "y": {"field": "ylo", "type": "quantitative", "scale": {"domain": [-0.25, 1.25]}, "axis": {"orient": "left", "values": [0.25, 0.75], "labels": false, "domain": false, "title": null, "tickSize": 2}},
                 "y2": {"field": "yhi"}}},
   {"data": {"name": "f"}, "transform": [{"fold": ["ylo", "yhi"], "as": ["which", "yc"]}], "mark": {"type": "tick", "orient": "horizontal", "color": "#222", "size": 7, "thickness": 1},
    "encoding": {"x": {"field": "dt", "type": "quantitative", "scale": {"domain": [-5, 35]}, "axis": {"orient": "top", "values": [5, 15, 25], "labels": false, "domain": false, "title": null, "tickSize": -2}},
                 "y": {"field": "yc", "type": "quantitative", "scale": {"domain": [-0.25, 1.25]}, "axis": {"orient": "right", "values": [0.25, 0.75], "labels": false, "domain": false, "title": null, "tickSize": -2}}}},
   {"data": {"name": "f"}, "mark": {"type": "point", "filled": true, "opacity": 1, "color": "#000", "size": 60, "shape": "circle"},
    "encoding": {"x": {"field": "dt", "type": "quantitative", "scale": {"domain": [-5, 35]}, "axis": null},
                 "y": {"field": "v", "type": "quantitative", "scale": {"domain": [-0.25, 1.25]}, "axis": null}}},
   {"data": {"values": [{"dt": -3.5, "v": 0.96, "t": "(f)"}]}, "mark": {"type": "text", "align": "left", "baseline": "middle", "fontSize": 13.5, "color": "#000"},
    "encoding": {"x": {"field": "dt", "type": "quantitative", "scale": {"domain": [-5, 35]}, "axis": null},
                 "y": {"field": "v", "type": "quantitative", "scale": {"domain": [-0.25, 1.25]}, "axis": null},
                 "text": {"field": "t"}}}
  ]}
]}
]
}
